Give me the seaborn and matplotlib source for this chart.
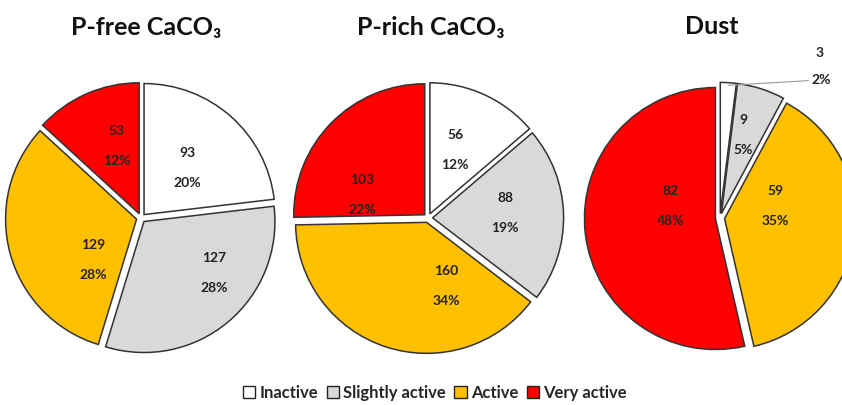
import numpy as np
import matplotlib
matplotlib.use("Agg")
import matplotlib.pyplot as plt
import seaborn as sns
from matplotlib.patches import Patch

sns.set_theme(style="white")
plt.rcParams['font.family'] = ['Lato', 'DejaVu Sans']

categories = ["Inactive", "Slightly active", "Active", "Very active"]
colors = ["#FFFFFF", "#D9D9D9", "#FFC000", "#FF0000"]

titles = ["P-free CaCO\u2083", "P-rich CaCO\u2083", "Dust"]
pfree_counts = [93, 127, 129, 53]
pfree_pct = [20, 28, 28, 12]
prich_counts = [56, 88, 160, 103]
prich_pct = [12, 19, 34, 22]
dust_counts = [3, 9, 59, 82]
dust_pct = [2, 5, 35, 48]

# layout: label radius (fraction of pie radius) and angular shift (deg) per slice
label_r = [[0.52, 0.70, 0.49, 0.58],
           [0.56, 0.59, 0.54, 0.53],
           [0.56, 0.66, 0.43, 0.39]]
label_shift = [[-1, 13, 26, -5],
               [3, 2, 33, 25],
               [0, 2, 20, -20]]

W, H = 842, 405
fig = plt.figure(figsize=(W / 100, H / 100), dpi=100)

R = 131          # pie radius in px
LIM = 1.2
centers = [(141, 218), (428, 218), (720, 218)]
data = [(pfree_counts, pfree_pct), (prich_counts, prich_pct), (dust_counts, dust_pct)]
txt_kw = dict(fontsize=10, fontweight="bold", color="#222222")

for i, ((cx, cy), (cnt, pct), title) in enumerate(zip(centers, data, titles)):
    half = R * LIM
    ax = fig.add_axes([(cx - half) / W, (H - cy - half) / H, 2 * half / W, 2 * half / H])
    labels = [f"{c}\n\n{p}%" for c, p in zip(cnt, pct)]
    if i == 2:
        labels[0] = ""
    wedges, texts = ax.pie(cnt, colors=colors, startangle=90, counterclock=False,
                           explode=[0.035] * 4, labels=labels, labeldistance=1.0,
                           wedgeprops=dict(edgecolor="#333333", linewidth=1.1),
                           textprops=dict(ha="center", va="center", linespacing=1.3, **txt_kw))
    for t, w, lr, ls in zip(texts, wedges, label_r[i], label_shift[i]):
        ang = np.deg2rad((w.theta1 + w.theta2) / 2 + ls)
        t.set_position((lr * np.cos(ang), lr * np.sin(ang)))
        t.set_ha("center")
        t.set_clip_on(False)
    if i == 2:
        w = wedges[0]
        ang = np.deg2rad((w.theta1 + w.theta2) / 2)
        cxw, cyw = w.center
        ax.annotate(f"{pct[0]}%", xy=(cxw + 0.98 * np.cos(ang), cyw + 0.98 * np.sin(ang)),
                    xytext=(0.70, 1.05), ha="left", va="center", annotation_clip=False,
                    arrowprops=dict(arrowstyle="-", color="#999999", lw=0.8,
                                    shrinkA=0, shrinkB=0, relpos=(0, 0.5)), **txt_kw)
        ax.text(0.76, 1.26, str(cnt[0]), ha="center", va="center", clip_on=False, **txt_kw)
    ax.set_xlim(-LIM, LIM)
    ax.set_ylim(-LIM, LIM)
    ax.set_aspect("equal")
    ax.axis("off")
    for w in wedges:
        w.set_clip_on(False)

title_x = [146, 431, 712]
for tx, title in zip(title_x, titles):
    fig.text(tx / W, 1 - 27 / H, title, ha="center", va="center", fontsize=18,
             fontweight="bold", color="#111111")

handles = [Patch(facecolor=c, edgecolor="#222222", linewidth=1.0) for c in colors]
fig.legend(handles, categories, loc="center", bbox_to_anchor=(435 / W, 1 - 393 / H),
           ncol=4, frameon=False, handlelength=0.75, handleheight=0.75,
           handletextpad=0.25, columnspacing=0.5,
           prop=dict(size=12, weight="bold"))

fig.savefig("out.png", dpi=100, facecolor="white")
